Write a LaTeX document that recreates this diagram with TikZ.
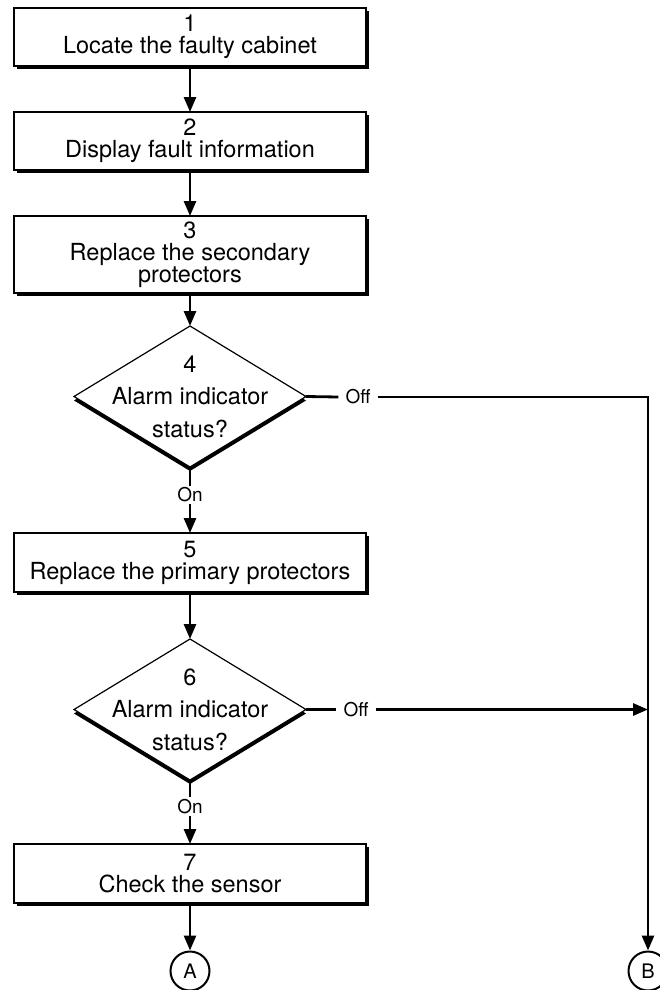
\documentclass[tikz,border=0pt]{standalone}
\usepackage{fontspec}
\setmainfont{TeX Gyre Heros}
\usetikzlibrary{arrows.meta,shapes.geometric,shadows}
\begin{document}
\begin{tikzpicture}[x=1pt,y=-1pt,
  stepbox/.style={draw, line width=1.2pt, fill=white,
    minimum width=352pt, minimum height=58pt, inner sep=0pt, outer sep=0pt,
    align=center, font=\fontsize{23.5}{22}\selectfont,
    drop shadow={shadow xshift=3pt, shadow yshift=-3pt, opacity=1, fill=black}},
  decision/.style={diamond, draw, line width=1.2pt, fill=white,
    minimum width=232pt, minimum height=141pt, inner sep=0pt, outer sep=0pt,
    drop shadow={shadow xshift=0pt, shadow yshift=-4pt, opacity=1, fill=black}},
  dtext/.style={align=center, inner sep=0pt, font=\fontsize{23.5}{32.5}\selectfont},
  branch/.style={font=\fontsize{19}{19}\selectfont, inner xsep=7pt, inner ysep=2pt},
  endpoint/.style={draw, line width=2pt, circle, minimum size=39pt, inner sep=0pt,
    font=\fontsize{20}{20}\selectfont},
  flow/.style={line width=2.8pt},
  arr/.style={flow, -{Triangle[length=15pt,width=12pt]}}
]
\useasboundingbox (0,0) rectangle (660,990);

% process steps
\node[stepbox] (b1) at (190,37) {1\\Locate the faulty cabinet};
\node[stepbox] (b2) at (190,141) {2\\Display fault information};
\node[stepbox, minimum height=77pt] (b3) at (190,254.5) {3\\Replace the secondary\\protectors};
\node[decision, label={[dtext]center:{4\\Alarm indicator\\status?}}] (d4) at (190,396.5) {};
\node[branch] (on1) at (190,495) {On};
\node[branch] (off1) at (358,397) {Off};
\node[stepbox, minimum height=59pt] (b5) at (190,562.5) {5\\Replace the primary protectors};
\node[decision, label={[dtext]center:{6\\Alarm indicator\\status?}}] (d6) at (190,709.5) {};
\node[branch] (on2) at (190,806.5) {On};
\node[branch] (off2) at (356,709.5) {Off};
\node[stepbox, minimum height=59pt] (b7) at (190,873.5) {7\\Check the sensor};

% off-page connectors
\node[endpoint] (A) at (190,971) {A};
\node[endpoint] (B) at (648,971) {B};
\coordinate (join) at (B |- d6.east);

% connectors
\draw[arr] (b1.south) -- (b2.north);
\draw[arr] (b2.south) -- (b3.north);
\draw[arr] (b3.south) -- (d4.north);
\draw[flow] (d4.south) -- (on1.north);
\draw[arr] (on1.south) -- (b5.north);
\draw[flow] (d4.east) -- (off1.west);
\draw[arr] (off1.east) -| (B.north);
\draw[arr] (b5.south) -- (d6.north);
\draw[flow] (d6.south) -- (on2.north);
\draw[arr] (on2.south) -- (b7.north);
\draw[flow] (d6.east) -- (off2.west);
\draw[arr] (off2.east) -- (join);
\draw[arr] (b7.south) -- (A.north);
\end{tikzpicture}
\end{document}
